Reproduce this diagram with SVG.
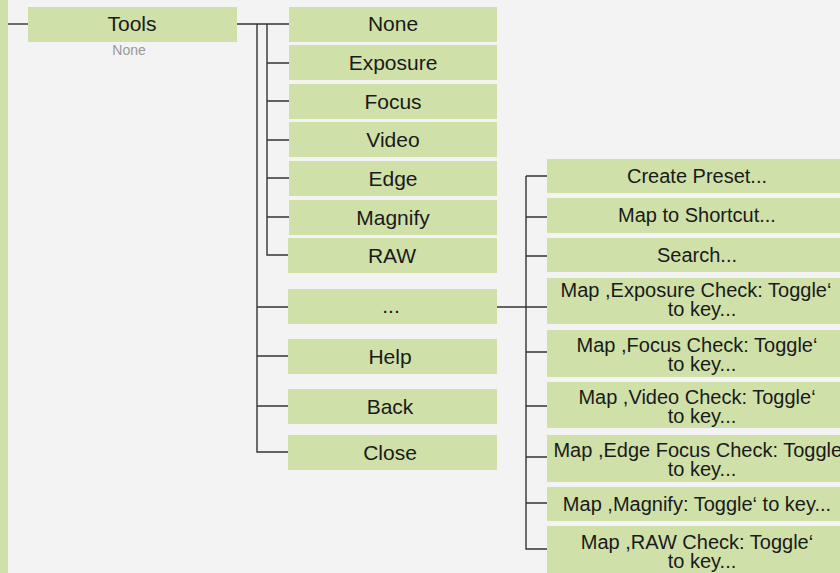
<svg xmlns="http://www.w3.org/2000/svg" width="840" height="573" viewBox="0 0 840 573">
<style>
.box{fill:#cfe0a9}
.t{font-family:"Liberation Sans",Arial,sans-serif;font-size:21px;fill:#1a1a1a;text-anchor:middle}
.s{font-family:"Liberation Sans",Arial,sans-serif;font-size:20px;fill:#1a1a1a;text-anchor:middle}
.sub{font-family:"Liberation Sans",Arial,sans-serif;font-size:14px;fill:#999;text-anchor:middle}
.c{fill:none;stroke:#333;stroke-width:1.4}
</style>
<rect width="840" height="573" fill="#f3f3f3"/>
<rect x="0" y="0" width="8" height="573" class="box"/>
<g id="connectors">
<path class="c" d="M8 24H28"/>
<path class="c" d="M237 24H289"/>
<path class="c" d="M257 24V452H289M257 307H289M257 356H289M257 406H289"/>
<path class="c" d="M267 24V255H289M267 63H289M267 101H289M267 140H289M267 178H289M267 217H289"/>
<path class="c" d="M497 307H547"/>
<path class="c" d="M526 176V549H547M526 176H547M526 217H547M526 256H547M526 352H547M526 406H547M526 457H547M526 503H547"/>
</g>
<g id="tools"><rect class="box" x="28" y="7" width="209" height="35"/><text class="t" x="132" y="31">Tools</text><text class="sub" x="129" y="55">None</text></g>
<g id="none"><rect class="box" x="289" y="7" width="208" height="35"/><text class="t" x="393" y="31">None</text></g>
<g id="exposure"><rect class="box" x="289" y="45" width="208" height="35"/><text class="t" x="393" y="70">Exposure</text></g>
<g id="focus"><rect class="box" x="289" y="84" width="208" height="35"/><text class="t" x="393" y="109">Focus</text></g>
<g id="video"><rect class="box" x="289" y="122" width="208" height="35"/><text class="t" x="393" y="147">Video</text></g>
<g id="edge"><rect class="box" x="289" y="161" width="208" height="35"/><text class="t" x="393" y="186">Edge</text></g>
<g id="magnify"><rect class="box" x="289" y="200" width="208" height="35"/><text class="t" x="393" y="225">Magnify</text></g>
<g id="raw"><rect class="box" x="288" y="238" width="209" height="35"/><text class="t" x="392" y="263">RAW</text></g>
<g id="more"><rect class="box" x="288" y="289" width="209" height="35"/><text class="t" x="391" y="313">...</text></g>
<g id="help"><rect class="box" x="288" y="339" width="209" height="35"/><text class="t" x="390" y="364">Help</text></g>
<g id="back"><rect class="box" x="288" y="389" width="209" height="35"/><text class="t" x="390" y="414">Back</text></g>
<g id="close"><rect class="box" x="288" y="435" width="209" height="35"/><text class="t" x="390" y="460">Close</text></g>
<g id="create-preset"><rect class="box" x="547" y="159" width="300" height="34"/><text class="s" x="697" y="183">Create Preset...</text></g>
<g id="map-shortcut"><rect class="box" x="547" y="198" width="300" height="35"/><text class="s" x="697" y="222">Map to Shortcut...</text></g>
<g id="search"><rect class="box" x="547" y="238" width="300" height="34"/><text class="s" x="697" y="262">Search...</text></g>
<g id="map-exposure"><rect class="box" x="547" y="278" width="300" height="46"/><text class="s" x="696" y="297">Map ,Exposure Check: Toggle‘</text><text class="s" x="702" y="316">to key...</text></g>
<g id="map-focus"><rect class="box" x="547" y="330" width="300" height="47"/><text class="s" x="697" y="352">Map ,Focus Check: Toggle‘</text><text class="s" x="702" y="371">to key...</text></g>
<g id="map-video"><rect class="box" x="547" y="382" width="300" height="46"/><text class="s" x="697" y="404">Map ,Video Check: Toggle‘</text><text class="s" x="702" y="423">to key...</text></g>
<g id="map-edge"><rect class="box" x="547" y="435" width="300" height="47"/><text class="s" x="700" y="457">Map ,Edge Focus Check: Toggle‘</text><text class="s" x="702" y="476">to key...</text></g>
<g id="map-magnify"><rect class="box" x="547" y="487" width="300" height="34"/><text class="s" x="697" y="511">Map ,Magnify: Toggle‘ to key...</text></g>
<g id="map-raw"><rect class="box" x="547" y="526" width="300" height="47"/><text class="s" x="697" y="549">Map ,RAW Check: Toggle‘</text><text class="s" x="702" y="568">to key...</text></g>
</svg>
